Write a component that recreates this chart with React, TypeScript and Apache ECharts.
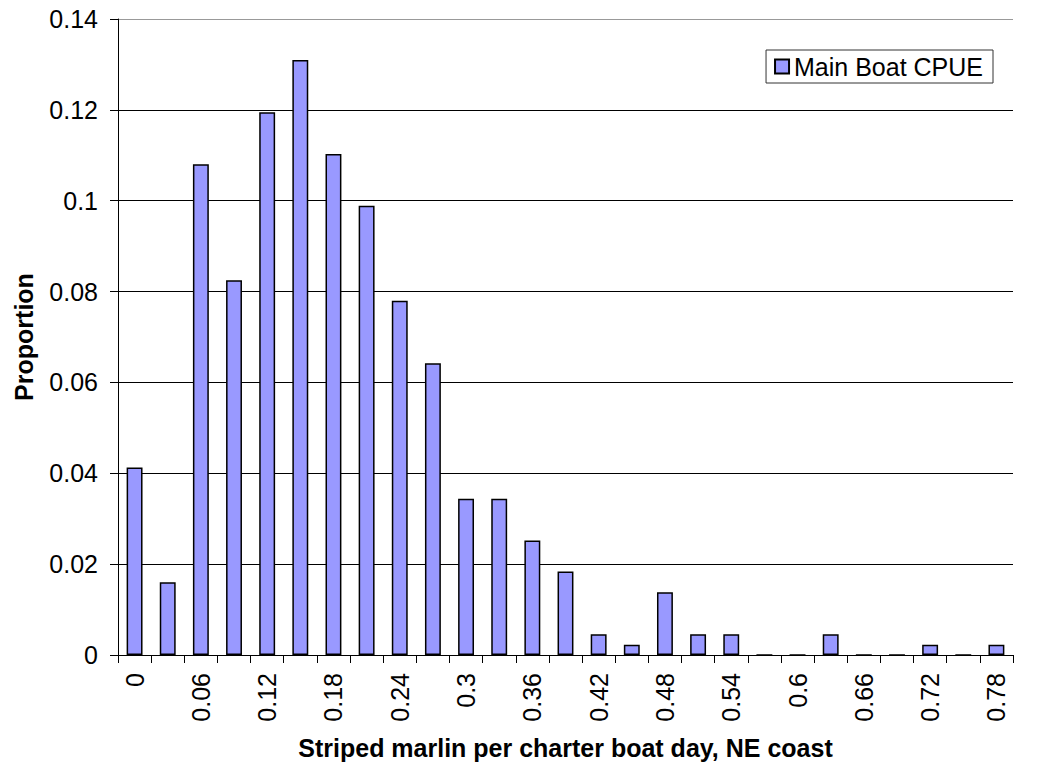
import { useEffect, useRef } from "react";
import * as echarts from "echarts";

// CPUE bins (striped marlin per charter boat day)
const categories = [
  "0", "0.03", "0.06", "0.09", "0.12", "0.15", "0.18", "0.21", "0.24",
  "0.27", "0.3", "0.33", "0.36", "0.39", "0.42", "0.45", "0.48", "0.51",
  "0.54", "0.57", "0.6", "0.63", "0.66", "0.69", "0.72", "0.75", "0.78",
];

const proportions = [
  0.0413, 0.016, 0.108, 0.0825, 0.1195, 0.131, 0.1103, 0.0989, 0.078,
  0.0642, 0.0344, 0.0344, 0.0252, 0.0184, 0.00456, 0.00228, 0.0138, 0.00456,
  0.00456, 0, 0, 0.00456, 0, 0, 0.00228, 0, 0.00228,
];

const seriesName = "Main Boat CPUE";
const xTitle = "Striped marlin per charter boat day, NE coast";
const yTitle = "Proportion";

const FONT = "'Liberation Sans', Arial, sans-serif";

export default function App() {
  const chartRef = useRef<HTMLDivElement>(null);

  useEffect(() => {
    const chart = echarts.init(chartRef.current!, undefined, { renderer: "svg" });

    const option = {
      animation: false,
      backgroundColor: "#ffffff",
      textStyle: { fontFamily: FONT, color: "#000" },
      grid: {
        left: 118,
        right: 24,
        top: 19,
        bottom: 109,
        containLabel: false,
        outerBoundsMode: "none",
      },
      legend: {
        data: [seriesName],
        right: 44,
        top: 50,
        icon: "rect",
        itemWidth: 14,
        itemHeight: 14,
        padding: [4, 10, 4, 8],
        borderColor: "#333",
        borderWidth: 1,
        textStyle: { fontFamily: FONT, fontSize: 25, color: "#000" },
      },
      xAxis: {
        type: "category",
        data: categories,
        name: xTitle,
        nameLocation: "middle",
        nameGap: 80,
        nameMoveOverlap: false,
        nameTextStyle: { fontFamily: FONT, fontSize: 25, fontWeight: "bold", color: "#000" },
        axisLine: { lineStyle: { color: "#000", width: 1 } },
        axisTick: { show: true, interval: 0, length: 8, lineStyle: { color: "#000" } },
        axisLabel: {
          interval: 1,
          rotate: 90,
          margin: 18,
          fontFamily: FONT,
          fontSize: 25,
          color: "#000",
        },
        splitLine: { show: false },
      },
      yAxis: {
        type: "value",
        min: 0,
        max: 0.14,
        interval: 0.02,
        name: yTitle,
        nameLocation: "middle",
        nameGap: 82,
        nameMoveOverlap: false,
        nameTextStyle: { fontFamily: FONT, fontSize: 25, fontWeight: "bold", color: "#000" },
        axisLine: { show: true, lineStyle: { color: "#000", width: 1 } },
        axisTick: { show: true, length: 8, lineStyle: { color: "#000" } },
        axisLabel: {
          margin: 20,
          fontFamily: FONT,
          fontSize: 25,
          color: "#000",
          formatter: (v: number) => String(+v.toFixed(2)),
        },
        splitLine: {
          show: true,
          lineStyle: {
            color: ["#000", "#000", "#000", "#000", "#000", "#000", "#000", "#999"],
            width: 1,
          },
        },
      },
      series: [
        {
          name: seriesName,
          type: "bar",
          data: proportions,
          barCategoryGap: "52%",
          itemStyle: { color: "#9999ff", borderColor: "#000", borderWidth: 1.5 },
        },
      ],
    };

    chart.setOption(option);

    return () => {
      chart.dispose();
    };
  }, []);

  return (
    <div
      ref={chartRef}
      style={{ position: "fixed", left: 0, top: 0, width: "1037px", height: "764px" }}
    />
  );
}
